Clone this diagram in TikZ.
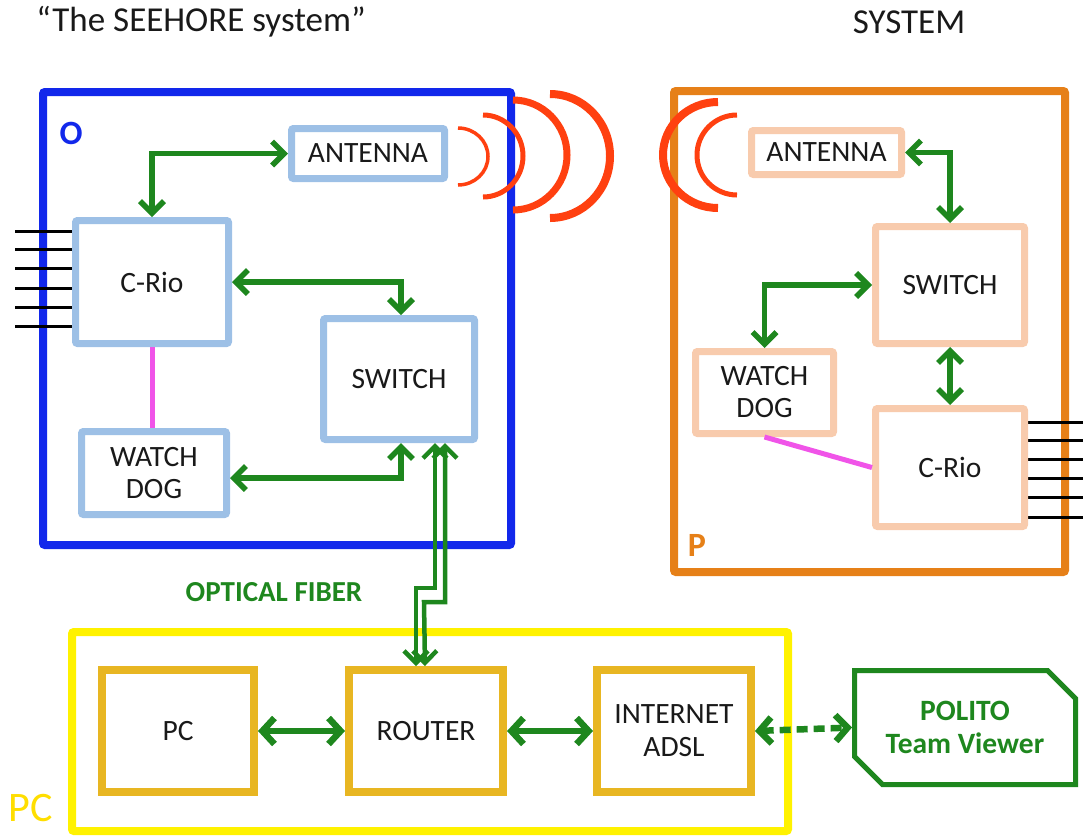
\documentclass[tikz,border=0pt]{standalone}
\usepackage{fontspec}
\setmainfont{Carlito}
\usetikzlibrary{arrows.meta,shapes.misc}
\definecolor{blueO}{RGB}{18,40,235}
\definecolor{lblue}{RGB}{157,192,230}
\definecolor{orgP}{RGB}{230,128,24}
\definecolor{lorg}{RGB}{248,203,173}
\definecolor{gold}{RGB}{232,182,34}
\definecolor{yel}{RGB}{255,242,0}
\definecolor{yeltxt}{RGB}{255,222,0}
\definecolor{grn}{RGB}{30,135,30}
\definecolor{redarc}{RGB}{255,64,16}
\definecolor{mag}{RGB}{240,84,232}
\definecolor{txt}{RGB}{25,25,25}
\newcommand\lbf{\fontsize{29.5}{33}\selectfont}
\begin{document}
\begin{tikzpicture}[x=1pt,y=-1pt,
  frame/.style={draw, line width=8pt, rounded corners=2pt},
  lbbox/.style={draw=lblue, line width=7pt, fill=white, rounded corners=2pt, font=\lbf, text=txt, align=center, inner sep=0pt},
  lobox/.style={draw=lorg, line width=7pt, fill=white, rounded corners=2pt, font=\lbf, text=txt, align=center, inner sep=0pt},
  gbox/.style={draw=gold, line width=8pt, fill=white, font=\lbf, text=txt, align=center, inner sep=0pt},
  garr/.style={draw=grn, line width=5.5pt, arrows={Straight Barb[length=12pt,width=24pt]-Straight Barb[length=12pt,width=24pt]}},
  gthick/.style={draw=grn, line width=6.5pt, arrows={Straight Barb[length=12pt,width=26pt]-Straight Barb[length=12pt,width=26pt]}},
  pin/.style={draw=black, line width=3pt},
  wave/.style={draw=redarc},
  magl/.style={draw=mag, line width=5pt}
]
\useasboundingbox (0,0) rectangle (1083,836);

% titles
\node[font=\fontsize{35}{38}\selectfont, text=txt] (title) at (201,22) {“The SEEHORE system”};
\node[font=\fontsize{35}{38}\selectfont, text=txt] (systitle) at (909,22) {SYSTEM};

% frames
\node[frame, draw=blueO, minimum width=468pt, minimum height=453pt] (frameO) at (277,318.5) {};
\node[frame, draw=orgP, minimum width=391pt, minimum height=481pt] (frameP) at (869.5,331.5) {};
\node[frame, draw=yel, minimum width=716pt, minimum height=199pt] (frameY) at (430,731.5) {};

\node[font=\fontsize{34}{38}\selectfont\bfseries, text=blueO] (labO) at (71,133) {O};
\node[font=\fontsize{34}{38}\selectfont\bfseries, text=orgP] (labP) at (697,545) {P};
\node[font=\fontsize{42}{46}\selectfont, text=yeltxt] (labPC) at (31,808) {PC};
\node[font=\fontsize{29}{32}\selectfont\bfseries, text=grn] (fiber) at (274,592) {OPTICAL FIBER};

% pins
\foreach \yy in {231,249,268,288,307,326} \draw[pin] (15,\yy) -- (75,\yy);
\foreach \yy in {422,440,459,478,497,517} \draw[pin] (1025,\yy) -- (1083,\yy);

% O boxes
\node[lbbox, minimum width=153pt, minimum height=50pt] (antO) at (368,153.5) {ANTENNA};
\node[lbbox, minimum width=153pt, minimum height=123pt] (crioO) at (152,282) {C-Rio};
\node[lbbox, minimum width=151pt, minimum height=121pt] (swO) at (399,379) {SWITCH};
\node[lbbox, minimum width=145pt, minimum height=83pt] (wdO) at (154,473) {WATCH\\[-1pt]DOG};

% P boxes
\node[lobox, minimum width=150pt, minimum height=44pt] (antP) at (826.5,152.5) {ANTENNA};
\node[lobox, minimum width=149pt, minimum height=117pt] (swP) at (950,285) {SWITCH};
\node[lobox, minimum width=138pt, minimum height=82pt] (wdP) at (764.5,392.5) {WATCH\\[-1pt]DOG};
\node[lobox, minimum width=149pt, minimum height=118pt] (crP) at (950,467.5) {C-Rio};

% bottom boxes
\node[gbox, minimum width=152pt, minimum height=122pt] (pcB) at (178,731) {PC};
\node[gbox, minimum width=154pt, minimum height=122pt] (rtB) at (426,731) {ROUTER};
\node[gbox, minimum width=154pt, minimum height=122pt] (inB) at (674,731) {INTERNET\\[0pt]ADSL};
\node[chamfered rectangle, chamfered rectangle corners={north east, south west},
      chamfered rectangle xsep=14pt, chamfered rectangle ysep=14pt,
      draw=grn, line width=5pt, fill=white, minimum width=221pt, minimum height=114pt,
      font=\lbf\bfseries, text=grn, align=center, inner sep=0pt] (polito) at (965,727.5) {POLITO\\[0pt]Team Viewer};

% magenta links
\draw[magl] (crioO.south) -- (crioO.south |- wdO.north);
\draw[magl] (wdP.south) -- (crP.west);

% green connectors O
\draw[garr] (antO.west) -| (crioO.north);
\draw[garr] (crioO.east) -| ([xshift=2pt]swO.north);
\draw[garr] ([yshift=-5pt]wdO.east) -| ([xshift=2pt]swO.south);
\draw[garr, line width=4.5pt] ([xshift=36pt]swO.south) -- ++(0,145) -- ++(-19,0) -- ([xshift=-10pt]rtB.north);
\draw[garr, line width=4.5pt] ([xshift=46pt]swO.south) -- ++(0,159) -- ++(-21,0) -- ([xshift=-1pt]rtB.north);

% green connectors P
\draw[garr] (antP.east) -| (swP.north);
\draw[garr] (swP.west) -| (wdP.north);
\draw[garr] (swP.south) -- (crP.north);

% bottom connectors
\draw[gthick] (pcB.east) -- (rtB.west);
\draw[gthick] (rtB.east) -- (inB.west);
\draw[gthick, dash pattern=on 11pt off 6pt] (inB.east) -- (polito.west);

% radio waves O
\draw[wave, line width=3.5pt] (458,128) arc[start angle=90, end angle=-90, x radius=30pt, y radius=28.5pt];
\draw[wave, line width=5pt] (483,115) arc[start angle=90, end angle=-90, x radius=40pt, y radius=41pt];
\draw[wave, line width=7pt] (513,100) arc[start angle=90, end angle=-90, x radius=54pt, y radius=55pt];
\draw[wave, line width=8pt] (550,94) arc[start angle=90, end angle=-90, x radius=60pt, y radius=62pt];

% radio waves P
\draw[wave, line width=8pt] (718,102) arc[start angle=90, end angle=270, x radius=55pt, y radius=53pt];
\draw[wave, line width=5pt] (737,115) arc[start angle=90, end angle=270, x radius=40pt, y radius=40pt];
\end{tikzpicture}
\end{document}
